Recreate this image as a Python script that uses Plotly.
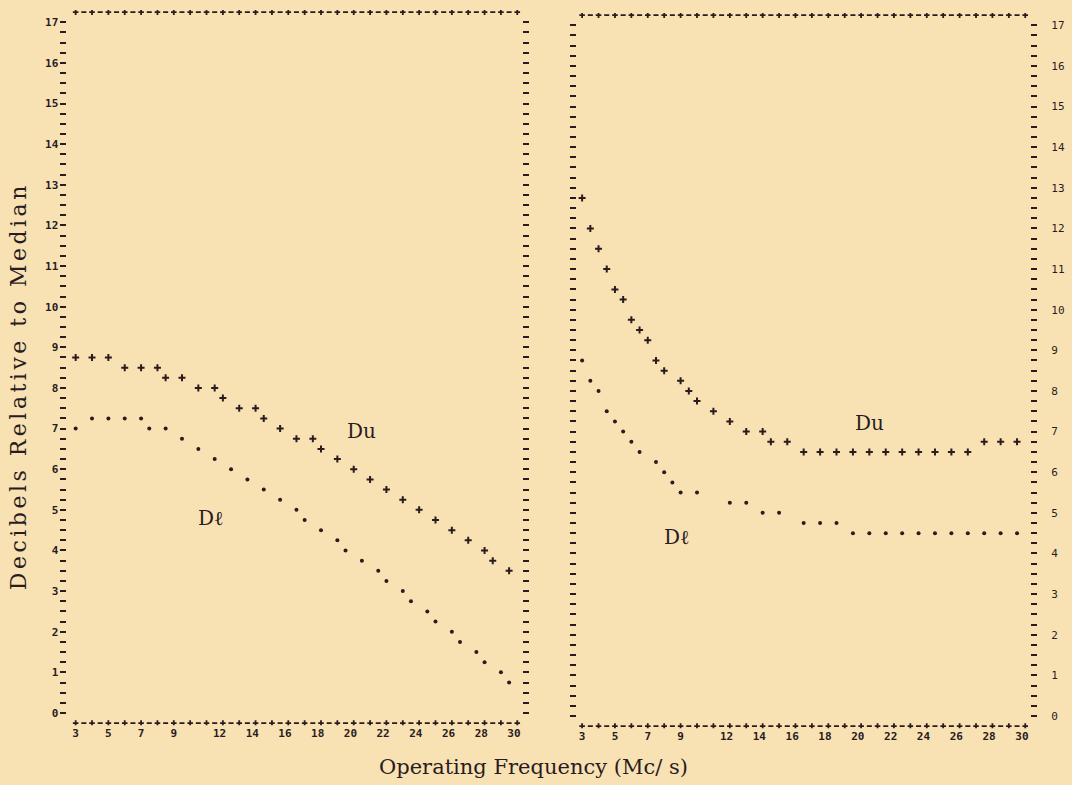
import numpy as np
import plotly.graph_objects as go

# ---------------- data ----------------
freq_ticks = [3, 5, 7, 9, 12, 14, 16, 18, 20, 22, 24, 26, 28, 30]
db_ticks = list(range(0, 18))

left_du_f = [3, 4, 5, 6, 7, 8, 8.5, 9.5, 10.5, 11.5, 12, 13, 14, 14.5, 15.5, 16.5, 17.5, 18,
             19, 20, 21, 22, 23, 24, 25, 26, 27, 28, 28.5, 29.5]
left_du_v = [8.75, 8.75, 8.75, 8.5, 8.5, 8.5, 8.25, 8.25, 8.0, 8.0, 7.75, 7.5, 7.5, 7.25, 7.0,
             6.75, 6.75, 6.5, 6.25, 6.0, 5.75, 5.5, 5.25, 5.0, 4.75, 4.5, 4.25, 4.0, 3.75, 3.5]

left_dl_f = [3, 4, 5, 6, 7, 7.5, 8.5, 9.5, 10.5, 11.5, 12.5, 13.5, 14.5, 15.5, 16.5, 17, 18, 19,
             19.5, 20.5, 21.5, 22, 23, 23.5, 24.5, 25, 26, 26.5, 27.5, 28, 29, 29.5]
left_dl_v = [7.0, 7.25, 7.25, 7.25, 7.25, 7.0, 7.0, 6.75, 6.5, 6.25, 6.0, 5.75, 5.5, 5.25, 5.0,
             4.75, 4.5, 4.25, 4.0, 3.75, 3.5, 3.25, 3.0, 2.75, 2.5, 2.25, 2.0, 1.75, 1.5, 1.25,
             1.0, 0.75]

right_du_f = [3, 3.5, 4, 4.5, 5, 5.5, 6, 6.5, 7, 7.5, 8, 9, 9.5, 10, 11, 12, 13, 14, 14.5, 15.5,
              16.5, 17.5, 18.5, 19.5, 20.5, 21.5, 22.5, 23.5, 24.5, 25.5, 26.5, 27.5, 28.5, 29.5]
right_du_v = [12.75, 12.0, 11.5, 11.0, 10.5, 10.25, 9.75, 9.5, 9.25, 8.75, 8.5, 8.25, 8.0, 7.75,
              7.5, 7.25, 7.0, 7.0, 6.75, 6.75, 6.5, 6.5, 6.5, 6.5, 6.5, 6.5, 6.5, 6.5, 6.5, 6.5,
              6.5, 6.75, 6.75, 6.75]

right_dl_f = [3, 3.5, 4, 4.5, 5, 5.5, 6, 6.5, 7.5, 8, 8.5, 9, 10, 12, 13, 14, 15,
              16.5, 17.5, 18.5, 19.5, 20.5, 21.5, 22.5, 23.5, 24.5, 25.5, 26.5, 27.5, 28.5, 29.5]
right_dl_v = [8.75, 8.25, 8.0, 7.5, 7.25, 7.0, 6.75, 6.5, 6.25, 6.0, 5.75, 5.5, 5.5, 5.25, 5.25,
              5.0, 5.0, 4.75, 4.75, 4.75, 4.5, 4.5, 4.5, 4.5, 4.5, 4.5, 4.5, 4.5, 4.5, 4.5, 4.5]

# ---------------- styling ----------------
BG = "#F8E2B4"
INK = "#2A1B1E"
SERIF = "DejaVu Serif"
MONO = "DejaVu Sans Mono"

fig = go.Figure()

# printer-style frame rows ("+-+-+") at top and bottom of each panel
frame_plus = np.arange(3, 31, 1.0)
frame_dash = np.arange(3.5, 30, 1.0)
for xa, ya in (("x", "y"), ("x2", "y2")):
    for yrow in (17.25, -0.25):
        fig.add_trace(go.Scatter(x=frame_plus, y=[yrow] * len(frame_plus), mode="markers",
                                 xaxis=xa, yaxis=ya, showlegend=False, hoverinfo="skip",
                                 marker=dict(symbol="cross-thin", size=4, color=INK,
                                             line=dict(width=1.8, color=INK))))
        fig.add_trace(go.Scatter(x=frame_dash, y=[yrow] * len(frame_dash), mode="markers",
                                 xaxis=xa, yaxis=ya, showlegend=False, hoverinfo="skip",
                                 marker=dict(symbol="line-ew", size=3.6, color=INK,
                                             line=dict(width=1.8, color=INK))))

def plus_trace(f, v, xa, ya, name):
    return go.Scatter(x=f, y=v, mode="markers", name=name, xaxis=xa, yaxis=ya,
                      showlegend=False,
                      marker=dict(symbol="cross-thin", size=5, color=INK,
                                  line=dict(width=2, color=INK)))

def dot_trace(f, v, xa, ya, name):
    return go.Scatter(x=f, y=v, mode="markers", name=name, xaxis=xa, yaxis=ya,
                      showlegend=False,
                      marker=dict(symbol="circle", size=4, color=INK))

fig.add_trace(plus_trace(left_du_f, left_du_v, "x", "y", "Du"))
fig.add_trace(dot_trace(left_dl_f, left_dl_v, "x", "y", "Dℓ"))
fig.add_trace(plus_trace(right_du_f, right_du_v, "x2", "y2", "Du"))
fig.add_trace(dot_trace(right_dl_f, right_dl_v, "x2", "y2", "Dℓ"))

W, H = 1072, 785
PX_PER_DB = 40.63

def ydom(px_zero, lo, hi):
    return [(H - (px_zero - lo * PX_PER_DB)) / H, (H - (px_zero - hi * PX_PER_DB)) / H]

YLO, YHI = -0.3, 17.3
# two-digit labels are printed with their last digit on the tick column
tick_text = [str(t) if t < 10 else str(t) + "\u2007" for t in freq_ticks]
minor_vals = list(np.arange(0, 17.01, 0.25))

common_x = dict(showgrid=False, zeroline=False, showline=False, ticks="",
                tickvals=freq_ticks, ticktext=tick_text,
                tickfont=dict(family=MONO, size=11, color=INK, weight="bold"))
common_y = dict(showgrid=False, zeroline=False, showline=False, range=[YLO, YHI],
                tickvals=db_ticks, ticks="outside", ticklen=6, tickwidth=2, tickcolor=INK,
                mirror="ticks",
                minor=dict(tickvals=minor_vals, ticks="outside", ticklen=6, tickwidth=2,
                           tickcolor=INK, showgrid=False))

fig.update_layout(
    width=W, height=H, margin=dict(l=0, r=0, t=0, b=0),
    paper_bgcolor=BG, plot_bgcolor=BG, showlegend=False,
    xaxis=dict(domain=[67.8 / W, 524.3 / W], range=[2.5, 30.28], anchor="y", **common_x),
    yaxis=dict(domain=ydom(713, YLO, YHI), anchor="x", side="left",
               tickfont=dict(family=MONO, size=11, color=INK, weight="bold"), **common_y),
    xaxis2=dict(domain=[579.9 / W, 1035.0 / W], range=[2.7, 30.3], anchor="y2", **common_x),
    yaxis2=dict(domain=ydom(716, YLO, YHI), anchor="x2", side="right",
                ticklabelstandoff=12,
                tickfont=dict(family=MONO, size=11, color=INK), **common_y),
)

# curve labels
for txt, x, y, xr, yr in [("Du", 20.5, 6.95, "x", "y"), ("Dℓ", 11.3, 4.8, "x", "y"),
                          ("Du", 20.5, 7.2, "x2", "y2"), ("Dℓ", 8.8, 4.4, "x2", "y2")]:
    fig.add_annotation(text=txt, x=x, y=y, xref=xr, yref=yr, showarrow=False,
                       font=dict(family=SERIF, size=20, color=INK))

# axis titles
fig.add_annotation(text="Operating Frequency (Mc/ s)", x=536 / W, y=(H - 767) / H,
                   xref="paper", yref="paper", showarrow=False,
                   xanchor="center", yanchor="middle",
                   font=dict(family=SERIF, size=21, color=INK))
fig.add_annotation(text="Decibels Relative to Median", x=18 / W, y=(H - 386) / H,
                   xref="paper", yref="paper", showarrow=False, textangle=-90,
                   xanchor="center", yanchor="middle",
                   font=dict(family=SERIF, size=22, color=INK))

fig.write_html(
    "out.html",
    config={"displayModeBar": False},
    post_script=[
        "document.body.style.margin='0';"
        "document.body.style.background='" + BG + "';"
        "document.documentElement.style.background='" + BG + "';"
        "document.querySelectorAll('text.annotation-text').forEach(function(t){"
        "if(t.textContent.indexOf('Decibels')===0){t.style.letterSpacing='3.5px';}});"
    ],
)
